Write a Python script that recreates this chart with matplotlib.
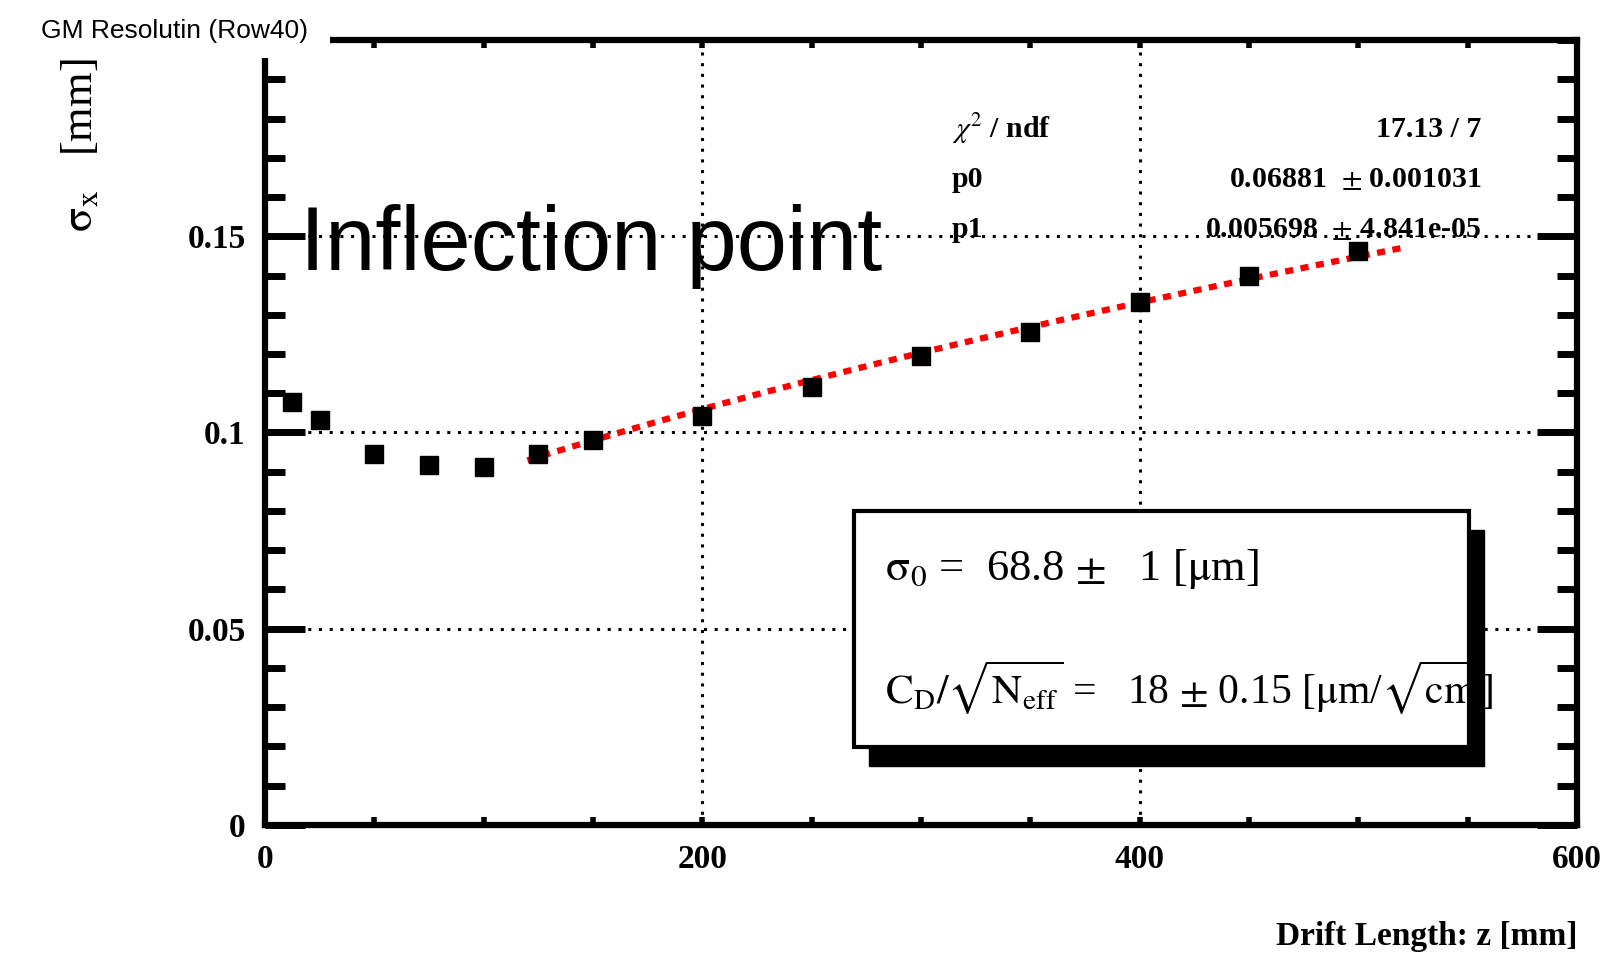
import numpy as np
import matplotlib
matplotlib.use("Agg")
import matplotlib.pyplot as plt
from matplotlib.patches import Rectangle
from matplotlib.ticker import MultipleLocator, FixedLocator, FuncFormatter
from matplotlib.transforms import ScaledTranslation

plt.rcParams["font.family"] = ["Liberation Serif", "DejaVu Serif"]
plt.rcParams["mathtext.fontset"] = "stix"

# resolution vs drift length (row 40)
drift_z = [12.5, 25, 50, 75, 100, 125, 150, 200, 250, 300, 350, 400, 450, 500]
sigma_x = [0.1077, 0.1033, 0.0944, 0.0918, 0.0911, 0.0944, 0.0982,
           0.1041, 0.1117, 0.1196, 0.1255, 0.1332, 0.1398, 0.1462]
sigma_err = [0.0018] * len(drift_z)

# fit parameters sigma = sqrt(p0^2 + p1^2 z)
p0 = 0.06881
p1 = 0.005698
fit_range = (120, 520)

stat_names = [r"$\chi^{2}$ / ndf", "p0", "p1"]
stat_values = ["17.13 / 7", "0.06881  $\\pm$ 0.001031", "0.005698  $\\pm$ 4.841e-05"]

fig = plt.figure(figsize=(16.22, 9.64), dpi=100)
ax = fig.add_axes([0.1634, 0.1442, 0.8089, 0.8143])

ax.set_xlim(0, 600)
ax.set_ylim(0, 0.2)

# grid
ax.xaxis.set_major_locator(FixedLocator([0, 200, 400, 600]))
ax.xaxis.set_minor_locator(MultipleLocator(50))
ax.yaxis.set_major_locator(FixedLocator([0, 0.05, 0.1, 0.15]))
ax.yaxis.set_minor_locator(MultipleLocator(0.01))
ax.xaxis.set_major_formatter(FuncFormatter(lambda v, p: "%g" % v))
ax.yaxis.set_major_formatter(FuncFormatter(lambda v, p: "%g" % v))
ax.grid(True, which="major", color="black", linewidth=2.2,
        linestyle=(0, (1, 2.5)), zorder=1)
ax.set_axisbelow(True)

for sp in ax.spines.values():
    sp.set_linewidth(4.5)

ax.tick_params(axis="y", which="major", direction="in", length=29, width=5,
               left=True, right=True, pad=14, labelsize=24)
ax.tick_params(axis="y", which="minor", direction="in", length=14.5, width=5,
               left=True, right=True)
ax.tick_params(axis="x", which="both", direction="in", length=6, width=4,
               bottom=True, top=True)
ax.tick_params(axis="x", which="major", pad=14, labelsize=24)
for lab in ax.get_xticklabels() + ax.get_yticklabels():
    lab.set_fontweight("bold")

# fit curve
zf = np.linspace(fit_range[0], fit_range[1], 300)
ax.plot(zf, np.sqrt(p0 ** 2 + p1 ** 2 * zf), color="red", linewidth=4.5,
        linestyle=(0, (1.3, 1.2)), zorder=3)

# data points
ax.errorbar(drift_z, sigma_x, yerr=sigma_err, fmt="s", color="black",
            markersize=13, elinewidth=3, capsize=0, zorder=4)

# fit statistics
for i, (name, val) in enumerate(zip(stat_names, stat_values)):
    y = 0.8866 - i * 0.0643
    ax.text(0.5236, y, name, transform=ax.transAxes, ha="left", va="center",
            fontsize=21.5, fontweight="bold", zorder=6)
    ax.text(0.9268, y, val, transform=ax.transAxes, ha="right", va="center",
            fontsize=21.5, fontweight="bold", zorder=6)

# result box with shadow
box = (0.449, 0.0994, 0.4687, 0.3006)
shadow_tr = ax.transAxes + ScaledTranslation(0.15, -0.19, fig.dpi_scale_trans)
ax.add_patch(Rectangle(box[:2], box[2], box[3], transform=shadow_tr,
                       facecolor="black", edgecolor="black", zorder=7))
ax.add_patch(Rectangle(box[:2], box[2], box[3], transform=ax.transAxes,
                       facecolor="white", edgecolor="black", linewidth=3,
                       zorder=8))
ax.text(0.4726, 0.3261, r"$\mathrm{\sigma_{0}}$ =  68.8 $\pm$   1 [$\mathrm{\mu}$m]",
        transform=ax.transAxes, ha="left", va="center", fontsize=32, zorder=9)
ax.text(0.4726, 0.1745,
        r"$\mathrm{C_{D}/\sqrt{N_{eff}}}$ =   18 $\pm$ 0.15 "
        r"[$\mathrm{\mu}$m/$\mathrm{\sqrt{cm}}$]",
        transform=ax.transAxes, ha="left", va="center", fontsize=30, zorder=9)

# annotation
ax.text(16, 0.1413, "Inflection point", ha="left", va="baseline",
        fontsize=65, family=["Liberation Sans", "DejaVu Sans"], zorder=6)

# axis titles
fig.text(1578 / 1622, 1 - 936 / 964, "Drift Length: z [mm]", ha="right",
         va="center", fontsize=24, fontweight="bold")
fig.text(80 / 1622, 1 - 232 / 964, r"$\mathrm{\sigma_{x}}$   [mm]", rotation=90,
         ha="center", va="bottom", fontsize=32)

# title pave
fig.patches.append(Rectangle((0, 1 - 58 / 964), 330 / 1622, 58 / 964,
                             transform=fig.transFigure, facecolor="white",
                             edgecolor="none", zorder=10))
fig.text(41 / 1622, 1 - 31 / 964, "GM Resolutin (Row40)", ha="left",
         va="center", fontsize=19, family=["Liberation Sans", "DejaVu Sans"],
         zorder=11)

fig.savefig("out.png", dpi=100)
